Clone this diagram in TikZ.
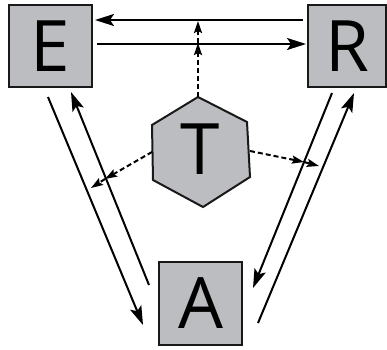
\documentclass[tikz,border=0pt]{standalone}
\usepackage{fontspec}
\setmainfont{Open Sans}
\usetikzlibrary{arrows.meta}
\definecolor{boxgray}{HTML}{BCBDC0}
\tikzset{
  box/.style={draw=black!90, line width=2.2pt, fill=boxgray, inner sep=0pt, font=\fontsize{71}{71}\selectfont},
  flow/.style={line width=2pt, -{Stealth[length=19pt,width=12pt,inset=4pt]}},
  influence/.style={line width=2pt, dash pattern=on 5pt off 3pt, -{Stealth[length=12pt,width=8pt,inset=2pt]}},
}
\begin{document}
\begin{tikzpicture}[x=1pt,y=-1pt]
\useasboundingbox (0,0) rectangle (387,349);
% boxes
\node[box, minimum width=83pt, minimum height=82pt] (E) at (50.5,46) {E};
\node[box, minimum width=78pt, minimum height=82pt] (R) at (347,46) {R};
\node[box, minimum width=83pt, minimum height=83pt] (A) at (200.5,303.5) {A};
% hexagon
\coordinate (h1) at (198,97);
\coordinate (h2) at (247,122);
\coordinate (h3) at (250,177);
\coordinate (h4) at (203,207);
\coordinate (h5) at (153,180);
\coordinate (h6) at (152,125);
\filldraw[draw=black!90, line width=2pt, fill=boxgray, line join=miter] (h1) -- (h2) -- (h3) -- (h4) -- (h5) -- (h6) -- cycle;
\node[inner sep=0pt, font=\fontsize{71}{71}\selectfont] (T) at (200,149) {T};
% E <-> R
\coordinate (er1) at (303,20);
\coordinate (er2) at (95,20);
\coordinate (er3) at (97,44);
\coordinate (er4) at (306,44);
\draw[flow] (er1) -- (er2);
\draw[flow] (er3) -- (er4);
% E <-> A
\coordinate (ea1) at (48,97);
\coordinate (ea2) at (143,325);
\coordinate (ea3) at (149,285);
\coordinate (ea4) at (71,92);
\draw[flow] (ea1) -- (ea2);
\draw[flow] (ea3) -- (ea4);
% R <-> A
\coordinate (ra1) at (332,93);
\coordinate (ra2) at (253,288);
\coordinate (ra3) at (258,323);
\coordinate (ra4) at (354,93);
\draw[flow] (ra1) -- (ra2);
\draw[flow] (ra3) -- (ra4);
% T influences
\coordinate (tu1) at (198,43);
\coordinate (tu2) at (198,21);
\draw[influence] (h1) -- (tu1);
\draw[influence] (tu1) -- (tu2);
\coordinate (tl0) at (152,152);
\coordinate (tl1) at (105,179);
\coordinate (tl2) at (91,188);
\draw[influence] (tl0) -- (tl1);
\draw[influence] (tl1) -- (tl2);
\coordinate (tr0) at (250,151);
\coordinate (tr1) at (304,162);
\coordinate (tr2) at (319,166);
\draw[influence] (tr0) -- (tr1);
\draw[influence] (tr1) -- (tr2);
\end{tikzpicture}
\end{document}
